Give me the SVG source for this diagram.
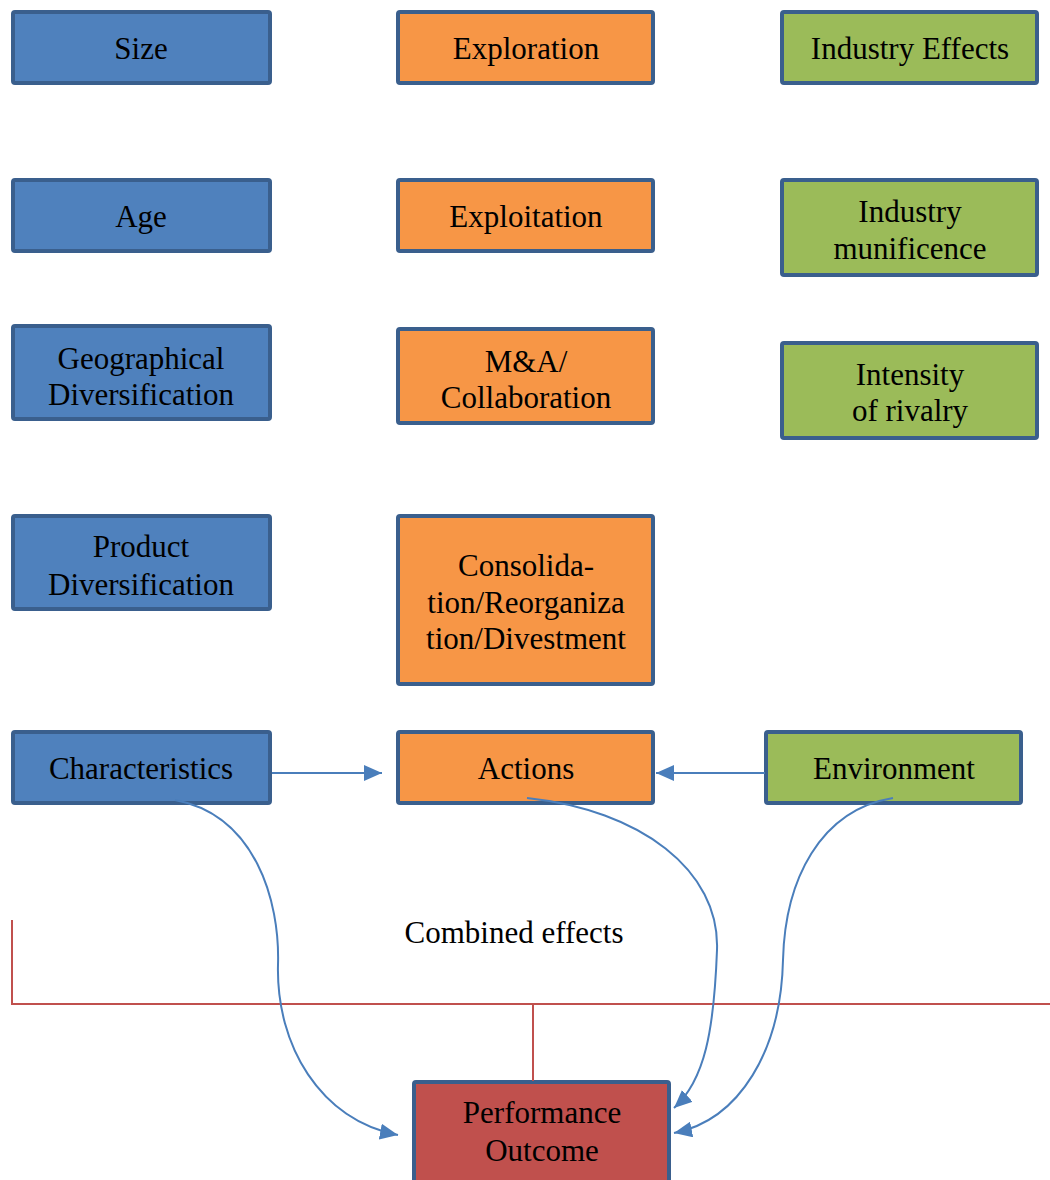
<svg xmlns="http://www.w3.org/2000/svg" width="1050" height="1180" viewBox="0 0 1050 1180">
<style>
.b{stroke:#3a5f8d;stroke-width:4}
.blue{fill:#4f81bd}.orange{fill:#f79646}.green{fill:#9bbb59}.red{fill:#c0504d}
text{font-family:'Liberation Serif','Times New Roman',serif;font-size:31px;fill:#000;text-anchor:middle}
.c{fill:none;stroke:#4a7ebb;stroke-width:2}
.r{fill:none;stroke:#c0504d;stroke-width:2}
</style>
<defs>
<marker id="ah" viewBox="0 0 10 10" refX="10" refY="5" markerWidth="18" markerHeight="16" markerUnits="userSpaceOnUse" orient="auto" preserveAspectRatio="none">
<path d="M0,0 L10,5 L0,10 z" fill="#4a7ebb"/>
</marker>
</defs>
<g id="size"><rect class="b blue" x="13" y="12" width="257" height="71" rx="2"/><text x="141" y="59">Size</text></g>
<g id="exploration"><rect class="b orange" x="398" y="12" width="255" height="71" rx="2"/><text x="526" y="59">Exploration</text></g>
<g id="industry-effects"><rect class="b green" x="782" y="12" width="255" height="71" rx="2"/><text x="910" y="59">Industry Effects</text></g>
<g id="age"><rect class="b blue" x="13" y="180" width="257" height="71" rx="2"/><text x="141" y="227">Age</text></g>
<g id="exploitation"><rect class="b orange" x="398" y="180" width="255" height="71" rx="2"/><text x="526" y="227">Exploitation</text></g>
<g id="industry-munificence"><rect class="b green" x="782" y="180" width="255" height="95" rx="2"/><text x="910" y="222">Industry</text><text x="910" y="259">munificence</text></g>
<g id="geo"><rect class="b blue" x="13" y="326" width="257" height="93" rx="2"/><text x="141" y="369">Geographical</text><text x="141" y="405">Diversification</text></g>
<g id="ma"><rect class="b orange" x="398" y="329" width="255" height="94" rx="2"/><text x="526" y="372">M&amp;A/</text><text x="526" y="408">Collaboration</text></g>
<g id="rivalry"><rect class="b green" x="782" y="343" width="255" height="95" rx="2"/><text x="910" y="385">Intensity</text><text x="910" y="421">of rivalry</text></g>
<g id="product"><rect class="b blue" x="13" y="516" width="257" height="93" rx="2"/><text x="141" y="557">Product</text><text x="141" y="595">Diversification</text></g>
<g id="consolidation"><rect class="b orange" x="398" y="516" width="255" height="168" rx="2"/><text x="526" y="576">Consolida-</text><text x="526" y="613">tion/Reorganiza</text><text x="526" y="649">tion/Divestment</text></g>
<g id="characteristics"><rect class="b blue" x="13" y="732" width="257" height="71" rx="2"/><text x="141" y="779">Characteristics</text></g>
<g id="actions"><rect class="b orange" x="398" y="732" width="255" height="71" rx="2"/><text x="526" y="779">Actions</text></g>
<g id="environment"><rect class="b green" x="766" y="732" width="255" height="71" rx="2"/><text x="894" y="779">Environment</text></g>
<g id="performance"><rect class="b red" x="414" y="1082" width="255" height="104" rx="2"/><text x="542" y="1123">Performance</text><text x="542" y="1161">Outcome</text></g>
<text x="514" y="943">Combined effects</text>
<g id="connectors">
<path class="r" d="M12,920 V1004 H1050 M533,1004 V1081"/>
<path class="c" marker-end="url(#ah)" d="M272,773 H382"/>
<path class="c" marker-end="url(#ah)" d="M765,773 H656"/>
<path class="c" marker-end="url(#ah)" d="M175,800 C255,815 280,900 278,965 C276,1045 320,1120 398,1135"/>
<path class="c" marker-end="url(#ah)" d="M527,798 C640,810 720,870 717,950 C714,1030 705,1080 674,1108"/>
<path class="c" marker-end="url(#ah)" d="M893,798 C820,810 785,880 783,960 C781,1050 740,1120 674,1133"/>
</g>
</svg>
